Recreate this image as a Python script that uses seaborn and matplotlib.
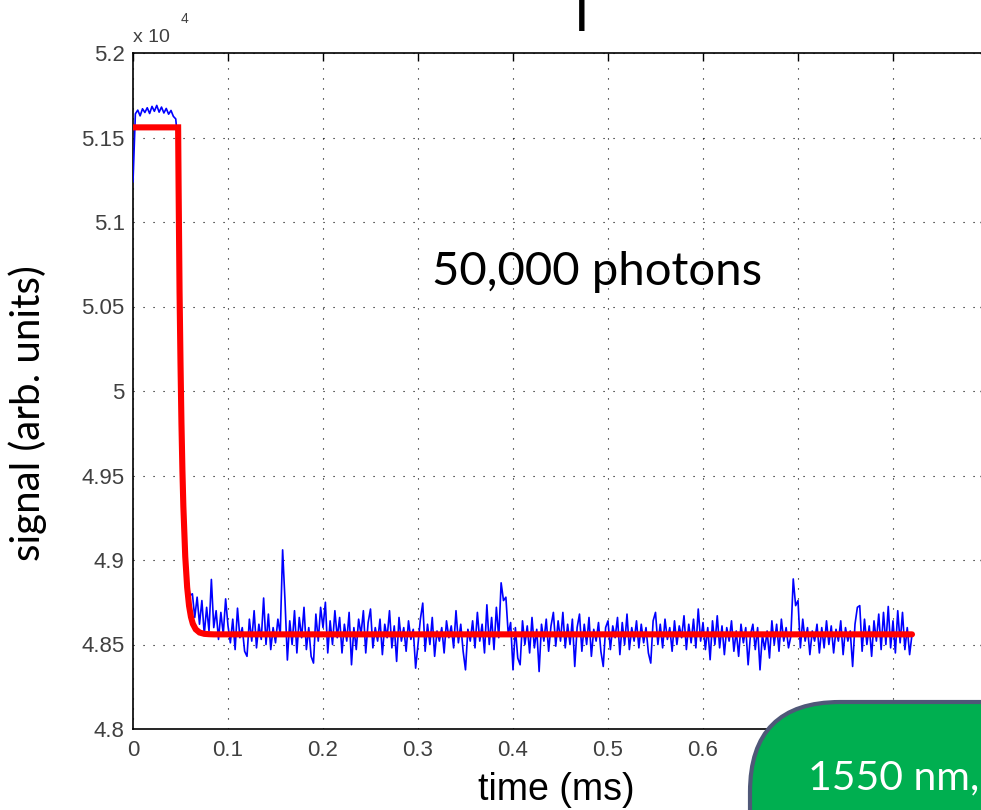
import numpy as np
import pandas as pd
import matplotlib
matplotlib.use("Agg")
import matplotlib.pyplot as plt
import seaborn as sns
from matplotlib.patches import FancyBboxPatch
from matplotlib.transforms import IdentityTransform
from matplotlib.ticker import FuncFormatter

# ---------------- data ----------------
# measured trace: sampled every 0.0025 ms starting at t = 0
blue_t0 = 0.0
blue_dt = 0.0025
blue_signal = [
    # 0.000 - 0.0475
    51237, 51640, 51662, 51628, 51670, 51648, 51676, 51642, 51684, 51655,
    51690, 51650, 51680, 51645, 51672, 51638, 51660, 51625, 51610, 51450,
    # 0.050 - 0.0975
    50200, 49450, 49050, 48880, 48790, 48800, 48660, 48780, 48620, 48760,
    48560, 48720, 48580, 48885, 48600, 48700, 48530, 48690, 48560, 48770,
    # 0.100 - 0.1475
    48610, 48510, 48650, 48470, 48715, 48540, 48600, 48460, 48430, 48650,
    48520, 48700, 48480, 48620, 48530, 48775, 48500, 48680, 48470, 48600,
    # 0.150 - 0.1975
    48510, 48650, 48560, 49060, 48760, 48408, 48640, 48500, 48700, 48450,
    48660, 48540, 48720, 48470, 48600, 48430, 48390, 48680, 48520, 48720,
    # 0.200 - 0.2475
    48600, 48750, 48450, 48640, 48500, 48700, 48540, 48660, 48450, 48620,
    48520, 48690, 48380, 48600, 48470, 48650, 48560, 48700, 48450, 48630,
    # 0.250 - 0.2975
    48710, 48480, 48600, 48520, 48650, 48440, 48620, 48540, 48700, 48480,
    48610, 48400, 48660, 48520, 48600, 48460, 48640, 48530, 48590, 48360,
    # 0.300 - 0.3475
    48500, 48650, 48745, 48460, 48620, 48500, 48660, 48430, 48580, 48520,
    48600, 48450, 48640, 48540, 48610, 48480, 48700, 48510, 48620, 48460,
    # 0.350 - 0.3975
    48350, 48590, 48520, 48640, 48480, 48690, 48520, 48620, 48450, 48735,
    48500, 48660, 48470, 48720, 48540, 48865, 48760, 48780, 48560, 48630,
    # 0.400 - 0.4475
    48350, 48600, 48420, 48380, 48640, 48500, 48610, 48450, 48660, 48480,
    48590, 48340, 48620, 48520, 48650, 48460, 48610, 48690, 48490, 48640,
    # 0.450 - 0.4975
    48520, 48690, 48480, 48620, 48500, 48650, 48370, 48600, 48680, 48460,
    48620, 48500, 48660, 48430, 48590, 48520, 48630, 48460, 48370, 48600,
    # 0.500 - 0.5475
    48640, 48470, 48610, 48540, 48660, 48440, 48630, 48500, 48680, 48470,
    48600, 48520, 48640, 48480, 48620, 48510, 48600, 48450, 48390, 48640,
    # 0.550 - 0.5975
    48690, 48500, 48620, 48480, 48650, 48530, 48600, 48460, 48640, 48500,
    48610, 48540, 48670, 48470, 48620, 48510, 48650, 48480, 48710, 48520,
    # 0.600 - 0.6475
    48630, 48470, 48600, 48410, 48640, 48500, 48670, 48480, 48610, 48440,
    48600, 48520, 48640, 48460, 48580, 48430, 48620, 48510, 48600, 48380,
    # 0.650 - 0.6975
    48560, 48620, 48470, 48600, 48350, 48560, 48470, 48580, 48420, 48640,
    48500, 48620, 48460, 48650, 48520, 48600, 48480, 48550, 48888, 48730,
    # 0.700 - 0.7475
    48760, 48480, 48650, 48520, 48600, 48440, 48580, 48520, 48620, 48450,
    48600, 48480, 48640, 48500, 48610, 48450, 48590, 48520, 48640, 48440,
    # 0.750 - 0.820
    48600, 48520, 48580, 48370, 48620, 48720, 48730, 48460, 48650, 48500,
    48610, 48430, 48640, 48520, 48680, 48470, 48690, 48500, 48725, 48480,
    48640, 48450, 48700, 48510, 48690, 48470, 48600, 48440, 48560,
]

# fitted curve (red)
fit_t = [0.0, 0.0475, 0.048, 0.049, 0.050, 0.051, 0.052, 0.053, 0.055, 0.057,
         0.059, 0.061, 0.063, 0.066, 0.070, 0.075, 0.080, 0.085, 0.090, 0.820]
fit_signal = [51560, 51560, 51207, 50588, 50165, 49810, 49534, 49319, 49020, 48839,
              48729, 48663, 48622, 48590, 48571, 48563, 48561, 48560, 48560, 48560]

x_ticks = [0.0, 0.1, 0.2, 0.3, 0.4, 0.5, 0.6, 0.7, 0.8, 0.9]
x_tick_labels = ["0", "0.1", "0.2", "0.3", "0.4", "0.5", "0.6", "", "", ""]  # 0.7+ hidden behind the box
y_ticks = [48000, 48500, 49000, 49500, 50000, 50500, 51000, 51500, 52000]

# ---------------- figure ----------------
sns.set_style("white")
plt.rcParams["font.family"] = ["Liberation Sans", "DejaVu Sans"]

W, H = 981, 810
fig = plt.figure(figsize=(W / 100, H / 100), dpi=100)
fig.patch.set_facecolor("white")

ax_l, ax_r, ax_t, ax_b = 133, 988, 53, 729
ax = fig.add_axes([ax_l / W, (H - ax_b) / H, (ax_r - ax_l) / W, (ax_b - ax_t) / H])
ax.set_facecolor("white")

blue_time = blue_t0 + blue_dt * np.arange(len(blue_signal))
df_blue = pd.DataFrame({"time": blue_time, "signal": blue_signal})
df_fit = pd.DataFrame({"time": fit_t, "signal": fit_signal})

sns.lineplot(data=df_blue, x="time", y="signal", ax=ax, color="#0000FF",
             linewidth=1.2, estimator=None, sort=False, zorder=3)
sns.lineplot(data=df_fit, x="time", y="signal", ax=ax, color="#FF0000",
             linewidth=4.4, estimator=None, sort=False, zorder=4,
             solid_joinstyle="miter")

ax.set_xlim(0, 0.9)
ax.set_ylim(48000, 52000)
ax.set_xticks(x_ticks)
ax.set_xticklabels(x_tick_labels)
ax.set_yticks(y_ticks)
ax.yaxis.set_major_formatter(FuncFormatter(lambda v, p: f"{v / 1e4:g}"))
ax.set_xlabel("")
ax.set_ylabel("")

ax.set_axisbelow(True)
ax.grid(True, color="black", linestyle=(0, (1, 8)), linewidth=0.8)
ax.tick_params(axis="both", direction="in", length=6, width=1.0,
               top=True, right=True, labelsize=16, labelcolor="#404040",
               color="black")
ax.tick_params(axis="x", pad=8)
ax.tick_params(axis="y", pad=6)
for s in ax.spines.values():
    s.set_visible(True)
    s.set_color("black")
    s.set_linewidth(1.2)

# exponent label
fig.text(133 / W, 1 - 42 / H, "x 10", fontsize=14, color="#404040",
         ha="left", va="baseline")
fig.text(181 / W, 1 - 23 / H, "4", fontsize=10, color="#404040",
         ha="left", va="baseline")

# axis labels
fig.text(556 / W, 1 - 800 / H, "time (ms)", fontsize=27, color="black",
         ha="center", va="baseline")
fig.text(28 / W, 1 - 413 / H, "signal (arb. units)", fontsize=29, color="black",
         family=["Lato", "DejaVu Sans"], rotation=90, ha="center", va="center")

# annotation inside plot
ax.text(0.3147, 50627, "50,000 photons", fontsize=34, color="black",
        family=["Lato", "DejaVu Sans"], ha="left", va="baseline", zorder=5)

# cropped title fragment at top
fig.text(582 / W, 1 - 31 / H, "I", fontsize=40, color="black",
         family=["Lato", "DejaVu Sans"], ha="center", va="baseline")

# green rounded box bottom-right (partially off-canvas)
box = FancyBboxPatch((750, -150), 500, 258,
                     boxstyle="round,pad=0,rounding_size=90",
                     transform=IdentityTransform(),
                     facecolor="#00AF50", edgecolor="#4F5878", linewidth=3,
                     zorder=10)
fig.add_artist(box)
fig.text(808 / W, 1 - 789 / H, "1550 nm,", fontsize=29.5, color="white",
         family=["Lato", "DejaVu Sans"], ha="left", va="baseline", zorder=11)

fig.savefig("out.png", dpi=100)
